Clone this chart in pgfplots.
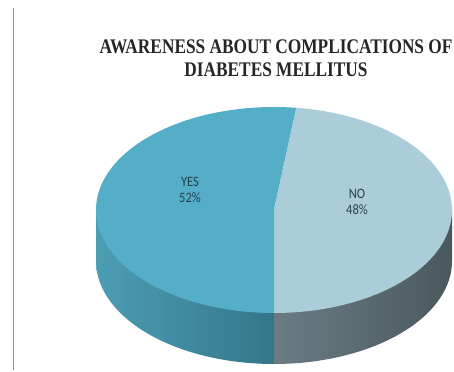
\documentclass[border=0pt]{standalone}
\usepackage{pgfplots}
\pgfplotsset{compat=1.18}
\usepackage{pgfplotstable}
\usepackage{fontspec}
\setmainfont{Liberation Serif}
\newfontfamily\labfont{Carlito}
\definecolor{yestop}{HTML}{55AEC8}
\definecolor{yesside1}{HTML}{4C9DB4}
\definecolor{yesside2}{HTML}{347689}
\definecolor{notop}{HTML}{ABCDD9}
\definecolor{noside1}{HTML}{6A7C84}
\definecolor{noside2}{HTML}{4A585E}
\definecolor{labcol}{HTML}{25404F}
\pgfplotstableread{
label value
YES 52
NO 48
}\piedata
\begin{document}
\begin{tikzpicture}
\pgfplotstablegetelem{0}{value}\of\piedata \edef\vyes{\pgfplotsretval}
\pgfplotstablegetelem{1}{value}\of\piedata \edef\vno{\pgfplotsretval}
\pgfmathsetmacro{\aend}{270}
\pgfmathsetmacro{\astart}{270-3.6*\vyes}
\begin{axis}[
  scale only axis, width=454bp, height=372bp,
  xmin=0, xmax=454, ymin=0, ymax=372,
  hide axis, clip=false,
]
\path[fill=white] (axis cs:0,0) rectangle (axis cs:454,372);
% left grey rule
\draw[color=black!45, line width=1bp] (axis cs:13.5,2) -- (axis cs:13.5,364);
% side walls (front half)
\addplot[draw=none, left color=yesside1, right color=yesside2, domain=180:270, samples=60, variable=\t]
  ({274+178*cos(t)},{111+103*sin(t)}) -- (axis cs:274,162) -- (axis cs:96,162) -- cycle;
\addplot[draw=none, left color=noside1, right color=noside2, domain=270:360, samples=60, variable=\t]
  ({274+178*cos(t)},{111+103*sin(t)}) -- (axis cs:452,162) -- (axis cs:274,162) -- cycle;
% top faces
\addplot[draw=none, fill=yestop, domain=\astart:\aend, samples=120, variable=\t]
  ({274+178*cos(t)},{162+103*sin(t)}) -- (axis cs:274,162) -- cycle;
\addplot[draw=none, fill=notop, domain=-90:\astart, samples=120, variable=\t]
  ({274+178*cos(t)},{162+103*sin(t)}) -- (axis cs:274,162) -- cycle;
% labels
\node[font=\labfont\fontsize{12.5bp}{14bp}\selectfont, text=labcol, align=center, yscale=1.15] at (axis cs:190,182) {YES\\52\%};
\node[font=\labfont\fontsize{12.5bp}{14bp}\selectfont, text=labcol, align=center, yscale=1.15] at (axis cs:357,170) {NO\\48\%};
% title
\node[font=\bfseries\fontsize{17.3bp}{19.5bp}\selectfont, text=black!85, align=center, yscale=1.2] at (axis cs:276,314) {AWARENESS ABOUT COMPLICATIONS OF\\DIABETES MELLITUS};
\end{axis}
\pgfresetboundingbox
\path[use as bounding box] (current axis.south west) rectangle (current axis.north east);
\end{tikzpicture}
\end{document}
